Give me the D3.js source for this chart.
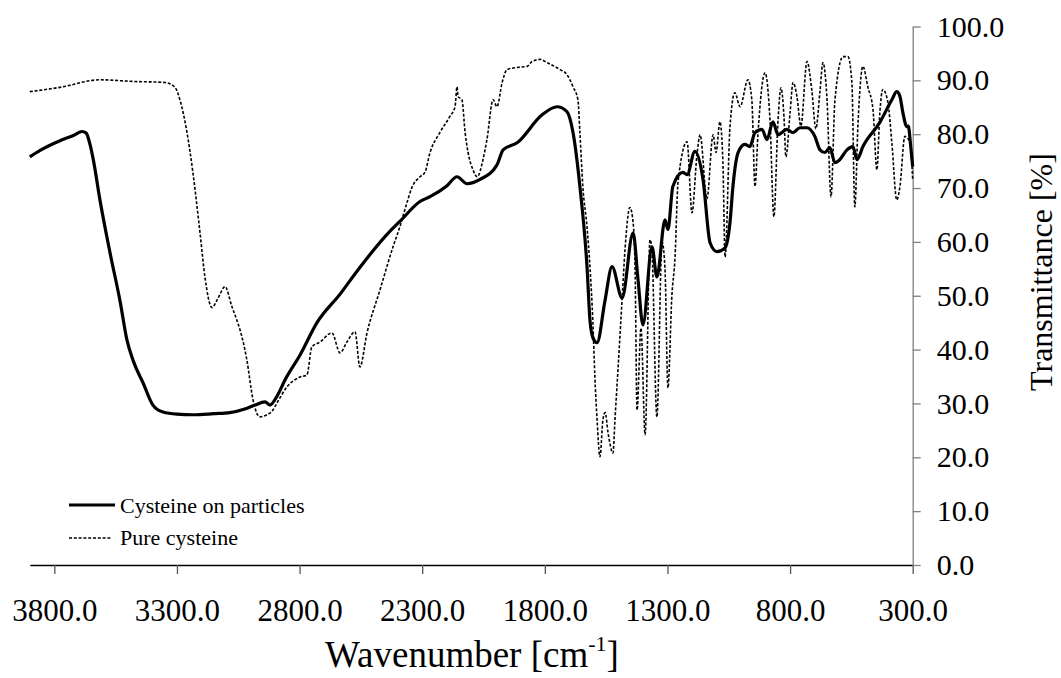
<!DOCTYPE html>
<html><head><meta charset="utf-8">
<script src="https://cdn.jsdelivr.net/npm/d3@7"></script>
<style>body{margin:0;background:#fff}svg{display:block}text{font-family:"Liberation Serif","Times New Roman",serif;fill:#000}</style>
</head><body><svg id="chart" width="1061" height="678"></svg>
<script>
const xTicks = [3800, 3300, 2800, 2300, 1800, 1300, 800, 300];
const yTicks = [0, 10, 20, 30, 40, 50, 60, 70, 80, 90, 100];
const seriesNames = ["Cysteine on particles", "Pure cysteine"];

// [wavenumber cm-1, transmittance %]
const particles = [
[3900,75.8],[3858,77.0],[3777,78.8],[3720,79.8],[3687,80.5],[3670,80.2],[3654,78.0],[3640,75.0],
[3614,67.8],[3573,58.0],[3532,49.0],[3504,41.8],[3479,38.0],[3438,33.8],[3398,29.7],[3357,28.4],
[3300,28.0],[3235,27.9],[3150,28.1],[3084,28.3],[3020,29.0],[2982,29.7],[2941,30.3],[2921,29.7],
[2890,31.5],[2859,34.4],[2798,39.0],[2729,45.0],[2635,50.3],[2562,54.8],[2431,62.0],[2391,63.8],
[2309,67.5],[2268,68.4],[2200,70.4],[2158,72.1],[2117,70.8],[2064,71.6],[1995,74.3],[1970,77.1],
[1913,78.4],[1811,83.6],[1750,85.1],[1710,84.2],[1685,80.3],[1657,70.3],[1628,55.4],[1616,45.5],
[1604,42.2],[1587,41.3],[1555,49.0],[1526,55.4],[1485,49.6],[1440,61.7],[1420,53.0],[1400,44.6],
[1363,59.1],[1343,53.5],[1310,64.1],[1298,62.3],[1278,70.3],[1237,72.9],[1220,72.5],[1188,76.8],
[1155,71.6],[1126,59.8],[1098,58.2],[1065,58.9],[1045,63.6],[1033,70.3],[1012,76.6],[984,78.1],
[964,77.7],[943,80.3],[915,80.9],[894,79.0],[870,82.3],[849,79.9],[813,80.9],[788,80.3],
[760,81.2],[731,81.2],[699,79.6],[678,77.1],[658,76.6],[638,77.5],[617,74.7],[597,75.3],
[568,77.1],[544,77.7],[527,75.3],[503,77.7],[434,82.2],[385,86.4],[365,87.9],[352,87.0],
[340,84.0],[324,81.4],[318,81.5],[308,77.7],[300,74.0]
];

const pure = [
[3900,87.9],[3777,88.7],[3614,90.1],[3479,89.8],[3348,89.6],[3308,88.7],[3288,86.4],[3259,80.3],
[3235,72.9],[3206,61.7],[3186,53.5],[3157,47.8],[3133,49.5],[3104,51.7],[3076,48.0],[3056,45.5],
[3043,43.7],[3015,38.1],[2990,30.7],[2962,27.5],[2933,27.9],[2913,28.5],[2892,30.1],[2851,33.1],
[2798,34.9],[2770,35.3],[2750,40.5],[2717,41.4],[2668,43.1],[2635,39.4],[2607,41.4],[2574,43.3],
[2554,36.8],[2525,43.1],[2472,51.1],[2419,59.1],[2391,62.8],[2362,67.3],[2342,70.1],[2309,72.1],
[2289,72.9],[2268,76.6],[2228,80.3],[2187,83.3],[2166,85.1],[2158,88.8],[2154,87.0],[2138,86.4],
[2125,80.3],[2113,76.6],[2093,73.4],[2076,72.1],[2052,75.3],[2036,79.0],[2011,86.4],[1995,85.1],
[1974,89.6],[1954,92.0],[1913,92.4],[1872,92.6],[1852,93.5],[1819,93.9],[1791,93.3],[1738,92.0],
[1710,91.1],[1685,88.8],[1665,86.4],[1657,80.3],[1645,70.3],[1628,62.8],[1616,55.4],[1604,45.0],
[1596,35.0],[1587,27.0],[1575,20.1],[1563,27.0],[1554,28.3],[1542,24.5],[1522,20.8],[1514,27.0],
[1501,36.8],[1485,49.3],[1473,58.6],[1453,66.4],[1440,63.6],[1432,55.0],[1424,28.8],[1408,44.0],
[1391,24.2],[1371,60.4],[1363,58.0],[1343,27.5],[1322,60.0],[1310,55.0],[1298,32.9],[1282,50.0],
[1269,57.2],[1257,71.0],[1220,78.6],[1200,65.4],[1180,76.0],[1167,79.9],[1139,68.0],[1114,79.9],
[1102,76.6],[1086,82.3],[1074,75.0],[1065,57.2],[1045,81.4],[1025,87.7],[1004,85.1],[972,90.1],
[956,86.4],[943,70.3],[931,80.0],[902,91.4],[882,82.7],[866,64.7],[849,82.7],[837,88.6],
[825,83.3],[817,75.8],[800,84.0],[788,89.6],[772,87.0],[756,81.5],[731,93.5],[711,88.0],
[695,81.0],[678,88.0],[666,93.3],[650,87.0],[633,68.4],[617,86.4],[584,94.4],[564,94.4],
[548,89.6],[536,66.5],[523,82.0],[503,92.6],[483,88.8],[462,84.6],[446,73.4],[434,84.0],
[422,88.3],[401,85.9],[385,78.4],[365,67.8],[352,70.3],[332,79.6],[311,78.5],[300,71.6]
];

const svg = d3.select("#chart");
const x = d3.scaleLinear().domain([3900, 300]).range([29.8, 912.7]);
const y = d3.scaleLinear().domain([0, 100]).range([565, 26.5]);

// X axis
const gx = svg.append("g").attr("transform", "translate(0,565)")
  .call(d3.axisBottom(x).tickValues(xTicks).tickSize(9).tickSizeOuter(0).tickFormat(d => d.toFixed(1)));
gx.select(".domain").attr("stroke", "#000").attr("stroke-width", 1.3);
gx.selectAll(".tick line").attr("stroke", "#555").attr("stroke-width", 1.3);
gx.selectAll(".tick text").attr("y", 56).attr("dy", 0).style("font-size", "31px")
  .style("font-family", '"Liberation Serif","Times New Roman",serif').attr("fill", "#000");

// Y axis (right)
const gy = svg.append("g").attr("transform", "translate(912.7,0)")
  .call(d3.axisRight(y).tickValues(yTicks).tickSize(8).tickSizeOuter(0).tickPadding(16).tickFormat(d => d.toFixed(1)));
gy.select(".domain").attr("stroke", "#808080").attr("stroke-width", 1.3);
gy.selectAll(".tick line").attr("stroke", "#808080").attr("stroke-width", 1.3);
gy.selectAll(".tick text").style("font-size", "30px")
  .style("font-family", '"Liberation Serif","Times New Roman",serif').attr("fill", "#000");

// Lines
const line = d3.line().x(d => x(d[0])).y(d => y(d[1])).curve(d3.curveMonotoneX);
svg.append("path").datum(pure).attr("d", line).attr("fill", "none")
  .attr("stroke", "#000").attr("stroke-width", 1.6).attr("stroke-dasharray", "3,1.8");
svg.append("path").datum(particles).attr("d", line).attr("fill", "none")
  .attr("stroke", "#000").attr("stroke-width", 3.2).attr("stroke-linejoin", "round");

// Legend
const leg = svg.append("g");
leg.append("line").attr("x1", 69).attr("x2", 115).attr("y1", 505).attr("y2", 505)
  .attr("stroke", "#000").attr("stroke-width", 3.2);
leg.append("text").attr("x", 120).attr("y", 513).style("font-size", "22px").text(seriesNames[0]);
leg.append("line").attr("x1", 69).attr("x2", 111).attr("y1", 538).attr("y2", 538)
  .attr("stroke", "#000").attr("stroke-width", 1.6).attr("stroke-dasharray", "3,1.8");
leg.append("text").attr("x", 120).attr("y", 545).style("font-size", "22px").text(seriesNames[1]);

// Axis titles
const xt = svg.append("text").attr("x", 472).attr("y", 667).attr("text-anchor", "middle").style("font-size", "37px");
xt.append("tspan").text("Wavenumber [cm");
xt.append("tspan").attr("dy", -16).style("font-size", "22px").text("-1");
xt.append("tspan").attr("dy", 16).text("]");

svg.append("text").attr("transform", "translate(1052,272) rotate(-90)").attr("text-anchor", "middle")
  .style("font-size", "32px").text("Transmittance [%]");
</script></body></html>
